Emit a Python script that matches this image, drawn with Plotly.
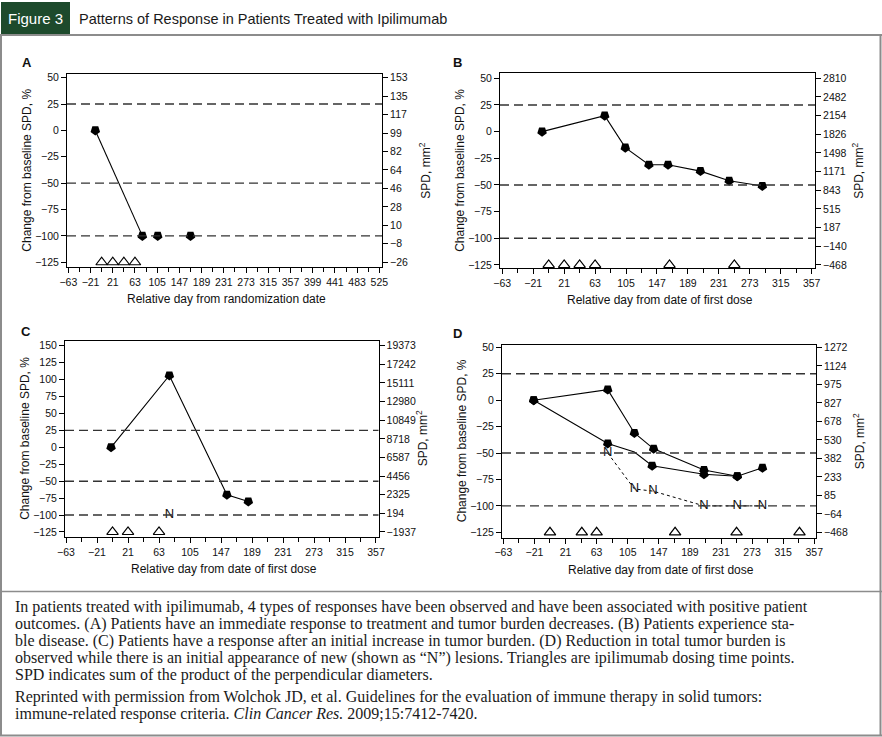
import numpy as np
import plotly.graph_objects as go

# ---------------- data ----------------
# Panel A
a_days = [-12, 77, 106, 168]
a_change = [0, -100, -100, -100]
a_dose_days = [0, 21, 42, 63]
a_xticks = [-63, -21, 21, 63, 105, 147, 189, 231, 273, 315, 357, 399, 441, 483, 525]
a_spd_ticks = ["153", "135", "117", "99", "82", "64", "46", "28", "10", "\u22128", "\u221226"]

# Panel B
b_days = [-9, 76, 104, 136, 162, 206, 245, 290]
b_change = [0, 15, -15, -31, -31, -37, -46, -51]
b_dose_days = [0, 21, 42, 63, 164, 252]
b_spd_ticks = ["2810", "2482", "2154", "1826", "1498", "1171", "843", "515", "187", "\u2212140", "\u2212468"]

# Panel C
c_days = [-2, 77, 155, 184]
c_change = [0, 106, -70, -80]
c_dose_days = [0, 21, 63]
c_new_days = [77]
c_new_change = [-100]
c_spd_ticks = ["19373", "17242", "15111", "12980", "10849", "8718", "6587", "4456", "2325", "194", "\u22121937"]

# Panel D
d_total_days = [-22, 78, 114, 140, 208, 253, 287]
d_total_change = [0, 10, -31, -46, -66, -72, -64]
d_index_days = [-22, 78, 114, 138, 208, 253]
d_index_change = [0, -41, -49, -62, -70, -72]
d_index_marked = [True, True, False, True, True, True]
d_new_days = [78, 114, 139, 208, 253, 287]
d_new_change = [-50, -84, -86, -100, -100, -100]
d_dose_days = [0, 43, 63, 169, 252, 337]
d_spd_ticks = ["1272", "1124", "975", "827", "678", "530", "382", "233", "85", "\u221264", "\u2212468"]

bcd_xticks = [-63, -21, 21, 63, 105, 147, 189, 231, 273, 315, 357]
threshold_lines = [25, -50, -100]

caption_lines = [
    "In patients treated with ipilimumab, 4 types of responses have been observed and have been associated with positive patient",
    "outcomes. (A) Patients have an immediate response to treatment and tumor burden decreases. (B) Patients experience sta-",
    "ble disease. (C) Patients have a response after an initial increase in tumor burden. (D) Reduction in total tumor burden is",
    "observed while there is an initial appearance of new (shown as \u201cN\u201d) lesions. Triangles are ipilimumab dosing time points.",
    "SPD indicates sum of the product of the perpendicular diameters.",
]
reprint_lines = [
    "Reprinted with permission from Wolchok JD, et al. Guidelines for the evaluation of immune therapy in solid tumors:",
    "immune-related response criteria. <i>Clin Cancer Res.</i> 2009;15:7412-7420.",
]

# ---------------- layout helpers ----------------
W, H = 882, 737
SANS = "Liberation Sans, Arial, sans-serif"
SERIF = "Liberation Serif, Times New Roman, serif"

def px_x(p):
    return p / W

def px_y(p):
    return 1 - p / H

def note(x, y, text, font, xanchor="center", yanchor="middle", **kw):
    return dict(x=px_x(x), y=px_y(y), xref="paper", yref="paper", text=text,
                showarrow=False, font=font, xanchor=xanchor, yanchor=yanchor, **kw)

panels = [
    dict(name="A", box=(67, 382, 74.3, 267), xr=[-65.5, 530], yr=[-129.5, 53.2],
         xticks=a_xticks, ytop=50, rticks=a_spd_ticks,
         xtitle="Relative day from randomization date", label_xy=(27, 63)),
    dict(name="B", box=(500, 815, 73.3, 268.3), xr=[-66.1, 361.5], yr=[-128.1, 54.7],
         xticks=bcd_xticks, ytop=50, rticks=b_spd_ticks,
         xtitle="Relative day from date of first dose", label_xy=(458, 63)),
    dict(name="C", box=(65, 378.5, 340.7, 537), xr=[-64.4, 360.4], yr=[-132.4, 157.4],
         xticks=bcd_xticks, ytop=150, rticks=c_spd_ticks,
         xtitle="Relative day from date of first dose", label_xy=(26, 332)),
    dict(name="D", box=(502, 816, 345, 537.5), xr=[-64.8, 359.3], yr=[-129.9, 52.2],
         xticks=bcd_xticks, ytop=50, rticks=d_spd_ticks,
         xtitle="Relative day from date of first dose", label_xy=(457, 333)),
]

fig = go.Figure()
layout = {}
shapes = []
annotations = []

tick_font = dict(family=SANS, size=10.5, color="#111")
title_font = dict(family=SANS, size=12, color="#111")

for i, p in enumerate(panels, start=1):
    l, r, t, b = p["box"]
    xd = [px_x(l), px_x(r)]
    yd = [px_y(b), px_y(t)]
    xs = "" if i == 1 else str(i)
    ri = i + 4
    xt = p["xticks"]
    minor_vals = [(xt[k] + xt[k + 1]) / 2 for k in range(len(xt) - 1)]
    layout["xaxis" + xs] = dict(
        domain=xd, anchor="y" + xs, range=p["xr"], showgrid=False, zeroline=False,
        automargin=False, showline=True, linecolor="black", linewidth=1, mirror=True,
        tickmode="array", tickvals=xt, ticks="outside", ticklen=5, tickcolor="black",
        tickangle=0, tickfont=tick_font,
        minor=dict(tickmode="array", tickvals=minor_vals, ticks="outside", ticklen=4,
                   tickcolor="black", showgrid=False),
    )
    layout["yaxis" + xs] = dict(
        domain=yd, anchor="x" + xs, range=p["yr"], showgrid=False, zeroline=False,
        automargin=False, showline=True, linecolor="black", linewidth=1,
        tick0=-125, dtick=25, ticks="outside", ticklen=5, tickcolor="black",
        tickfont=tick_font,
    )
    rvals = list(np.linspace(p["ytop"], -125, len(p["rticks"])))
    layout["yaxis" + str(ri)] = dict(
        overlaying="y" + xs, anchor="x" + xs, side="right", range=p["yr"],
        automargin=False, showgrid=False, zeroline=False, showline=True,
        linecolor="black", linewidth=1,
        tickmode="array", tickvals=rvals, ticktext=p["rticks"], ticks="outside",
        ticklen=5, tickcolor="black", tickfont=tick_font,
    )
    fig.add_trace(go.Scatter(x=[p["xr"][0]], y=[p["yr"][0]], xaxis="x" + xs,
                             yaxis="y" + str(ri), mode="markers",
                             marker=dict(opacity=0), hoverinfo="skip"))
    for v in threshold_lines:
        shapes.append(dict(type="line", xref="x%s domain" % xs, yref="y" + xs,
                           x0=0, x1=1, y0=v, y1=v,
                           line=dict(color="#333", width=1.4, dash="9px,5px")))
    annotations.append(note(p["label_xy"][0], p["label_xy"][1], "<b>%s</b>" % p["name"],
                            dict(family=SANS, size=13, color="#111")))
    annotations.append(note((l + r) / 2 + 2, b + 32, p["xtitle"], title_font))
    annotations.append(note(l - 40, (t + b) / 2, "Change from baseline SPD, %", title_font,
                            textangle=-90))
    annotations.append(note(r + 43, (t + b) / 2, "SPD, mm<sup>2</sup>", title_font,
                            textangle=-90))

SQ = dict(symbol="pentagon", angle=180, size=10, color="black")
TRI = dict(symbol="triangle-up-open", size=10, color="black", line=dict(width=1.2, color="black"))
LN = dict(color="black", width=1.1)

def dose(days, ax):
    xs = "" if ax == 1 else str(ax)
    fig.add_trace(go.Scatter(x=days, y=[-125] * len(days), xaxis="x" + xs, yaxis="y" + xs,
                             mode="markers", marker=TRI, hoverinfo="skip"))

# Panel A
fig.add_trace(go.Scatter(x=a_days[:2], y=a_change[:2], xaxis="x", yaxis="y", mode="lines", line=LN))
fig.add_trace(go.Scatter(x=a_days, y=a_change, xaxis="x", yaxis="y", mode="markers", marker=SQ))
dose(a_dose_days, 1)

# Panel B
fig.add_trace(go.Scatter(x=b_days, y=b_change, xaxis="x2", yaxis="y2", mode="lines+markers",
                         line=LN, marker=SQ))
dose(b_dose_days, 2)

# Panel C
fig.add_trace(go.Scatter(x=c_days, y=c_change, xaxis="x3", yaxis="y3", mode="lines+markers",
                         line=LN, marker=SQ))
fig.add_trace(go.Scatter(x=c_new_days, y=c_new_change, xaxis="x3", yaxis="y3", mode="text",
                         text=["N"] * len(c_new_days),
                         textfont=dict(family=SANS, size=13, color="#111")))
dose(c_dose_days, 3)

# Panel D
fig.add_trace(go.Scatter(x=d_new_days, y=d_new_change, xaxis="x4", yaxis="y4", mode="lines+text",
                         line=dict(color="black", width=1, dash="3px,3px"),
                         text=["N"] * len(d_new_days),
                         textfont=dict(family=SANS, size=13, color="#111")))
fig.add_trace(go.Scatter(x=d_total_days, y=d_total_change, xaxis="x4", yaxis="y4",
                         mode="lines+markers", line=LN, marker=SQ))
fig.add_trace(go.Scatter(x=d_index_days, y=d_index_change, xaxis="x4", yaxis="y4", mode="lines", line=LN))
fig.add_trace(go.Scatter(x=[d for d, m in zip(d_index_days, d_index_marked) if m],
                         y=[v for v, m in zip(d_index_change, d_index_marked) if m],
                         xaxis="x4", yaxis="y4", mode="markers", marker=SQ))
dose(d_dose_days, 4)

# ---------------- frame, header, caption ----------------
FRAME = "#8c8c8c"
shapes += [
    dict(type="rect", xref="paper", yref="paper", x0=px_x(1), x1=px_x(70), y0=px_y(34), y1=px_y(2),
         fillcolor="#1d4a2c", line=dict(width=0)),
    dict(type="line", xref="paper", yref="paper", x0=0, x1=1, y0=px_y(35), y1=px_y(35),
         line=dict(color=FRAME, width=2)),
    dict(type="line", xref="paper", yref="paper", x0=px_x(1), x1=px_x(1), y0=px_y(35), y1=px_y(736),
         line=dict(color=FRAME, width=2)),
    dict(type="line", xref="paper", yref="paper", x0=px_x(880.5), x1=px_x(880.5), y0=px_y(35), y1=px_y(736),
         line=dict(color=FRAME, width=2)),
    dict(type="line", xref="paper", yref="paper", x0=0, x1=1, y0=px_y(591.5), y1=px_y(591.5),
         line=dict(color=FRAME, width=1.5)),
    dict(type="line", xref="paper", yref="paper", x0=0, x1=1, y0=px_y(735.5), y1=px_y(735.5),
         line=dict(color=FRAME, width=2)),
]
annotations.append(note(35.5, 18.5, "Figure 3", dict(family=SANS, size=15, color="white")))
annotations.append(note(77, 18.5, "Patterns of Response in Patients Treated with Ipilimumab",
                        dict(family=SANS, size=14.5, color="#1a1a1a"), xanchor="left"))
for k, line in enumerate(caption_lines):
    annotations.append(note(13, 607 + 17 * k, line, dict(family=SERIF, size=16, color="#1a1a1a"),
                            xanchor="left"))
for k, line in enumerate(reprint_lines):
    annotations.append(note(13, 697 + 17 * k, line, dict(family=SERIF, size=16, color="#1a1a1a"),
                            xanchor="left"))

fig.update_layout(**layout)
fig.update_layout(template="none", width=W, height=H, margin=dict(l=0, r=0, t=0, b=0, autoexpand=False),
                  showlegend=False, paper_bgcolor="white", plot_bgcolor="rgba(0,0,0,0)",
                  shapes=shapes, annotations=annotations)
fig.write_html("out.html", config={"displayModeBar": False},
               post_script="document.body.style.margin='0';")
